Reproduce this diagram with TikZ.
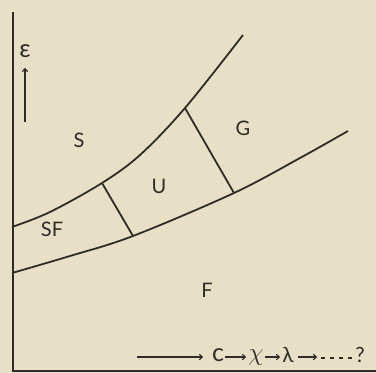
\documentclass[tikz,border=0pt]{standalone}
\usepackage{fontspec}
\setmainfont{Lato}
\usetikzlibrary{arrows.meta}
\definecolor{paper}{HTML}{E8E0C6}
\definecolor{ink}{HTML}{2E2C27}
\begin{document}
\begin{tikzpicture}[x=1pt,y=-1pt,
  line/.style={draw=ink,line width=1.8pt},
  lbl/.style={text=ink,font=\fontsize{20}{20}\selectfont,inner sep=0pt},
  sym/.style={text=ink,font=\fontsize{21}{21}\selectfont,inner sep=0pt},
  arr/.style={draw=ink,line width=1.1pt,-{To[length=4pt,width=6pt]}}]
\fill[paper] (0,0) rectangle (376,373);
\useasboundingbox (0,0) rectangle (376,373);
% axes
\coordinate (top) at (13,12);
\coordinate (origin) at (13,371);
\coordinate (xend) at (376,371);
\draw[line] (top) -- (origin) -- (xend);
% curves
\coordinate (u0) at (12,227);
\coordinate (u1) at (102,183);
\coordinate (u2) at (185,108);
\coordinate (u3) at (243,35);
\coordinate (l0) at (12,273);
\coordinate (l1) at (133,236);
\coordinate (l2) at (234,193);
\coordinate (l3) at (348,131);
\draw[line] plot[smooth,tension=0.55] coordinates {(u0) (50,212) (u1) (140,155) (u2) (u3)};
\draw[line] plot[smooth,tension=0.55] coordinates {(l0) (70,256) (l1) (l2) (300,158) (l3)};
\draw[line] (u1) -- (l1);
\draw[line] (u2) -- (l2);
% region labels
\node[lbl] (S) at (79,140) {S};
\node[lbl] (G) at (243,128) {G};
\node[lbl] (U) at (159,186) {U};
\node[lbl] (SF) at (52,229) {SF};
\node[lbl] (F) at (207,290) {F};
% epsilon axis label
\node[sym,font=\fontsize{25}{25}\selectfont] (eps) at (25,51) {ε};
\coordinate (ea) at (25,122);
\coordinate (eb) at (25,68);
\draw[arr] (ea) -- (eb);
% bottom sequence
\coordinate (xa) at (137,357);
\coordinate (xb) at (203,357);
\draw[arr] (xa) -- (xb);
\node[sym,font=\fontsize{25}{25}\selectfont] (c) at (218,355) {c};
\node[sym,font=\fontsize{27}{27}\selectfont] (chi) at (256,358) {$\chi$};
\node[sym] (lam) at (288,355) {λ};
\node[sym] (q) at (360,355) {?};
\coordinate (a1) at (225,357); \coordinate (a2) at (246,357);
\coordinate (b1) at (265,357); \coordinate (b2) at (280,357);
\coordinate (d1) at (298,357); \coordinate (d2) at (317,357);
\coordinate (e1) at (321,358); \coordinate (e2) at (354,358);
\draw[arr] (a1) -- (a2);
\draw[arr] (b1) -- (b2);
\draw[arr] (d1) -- (d2);
\draw[draw=ink,line width=1.1pt,dash pattern=on 4pt off 5pt] (e1) -- (e2);
\end{tikzpicture}
\end{document}
